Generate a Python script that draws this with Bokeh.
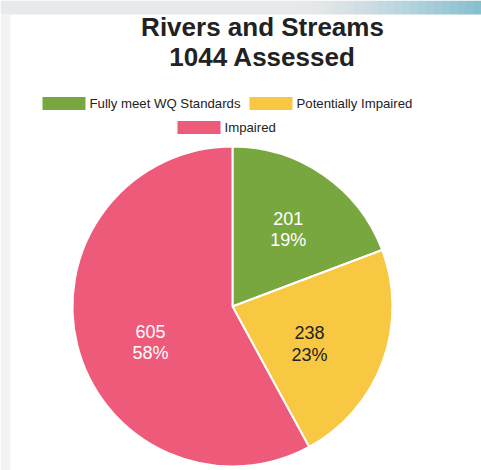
import numpy as np
from bokeh.plotting import figure
from bokeh.models import Range1d, ColumnDataSource
from bokeh.core.properties import value
from bokeh.embed import file_html
from bokeh.resources import INLINE

# ---- data ----
title_lines = ["Rivers and Streams", "1044 Assessed"]
categories = ["Fully meet WQ Standards", "Potentially Impaired", "Impaired"]
counts = [201, 238, 605]
colors = ["#79a73f", "#f9c843", "#ee5a7a"]
label_colors = ["white", "#222222", "white"]

W, H = 481, 470
p = figure(width=W, height=H, output_backend="svg", toolbar_location=None,
           x_range=Range1d(0, W), y_range=Range1d(0, H),
           min_border=0, outline_line_color=None, background_fill_color="white",
           border_fill_color="white")
p.axis.visible = False
p.grid.visible = False

FONT = value("Liberation Sans")

# decorative page background: top band and left shadow
n = 60
xs = np.linspace(0, W, n + 1)
c0 = np.array([0xe8, 0xe9, 0xeb]); c1 = np.array([0x84, 0xbf, 0xcf])
fill = []
for i in range(n):
    xm = (xs[i] + xs[i + 1]) / 2
    t = np.clip((xm - 300) / (W - 300), 0, 1) ** 1.3
    c = (c0 * (1 - t) + c1 * t).astype(int)
    fill.append("#%02x%02x%02x" % tuple(c))
p.quad(left=xs[:-1], right=xs[1:] + 0.5, bottom=H - 14, top=H, fill_color=fill,
       line_color=None)
p.quad(left=0, right=10, bottom=0, top=H - 14, fill_color="#f3f3f4", line_color=None)

# title
p.text(x=[262, 262], y=[H - 26, H - 56], text=title_lines, text_font=FONT,
       text_font_size="26px", text_font_style="bold", text_color="#222222",
       text_align="center", text_baseline="middle")

# legend (manual, two rows)
leg_x = [42, 249, 177]
leg_y = [H - 103, H - 103, H - 127]
p.rect(x=[x + 21.5 for x in leg_x], y=leg_y, width=43, height=13,
       fill_color=colors, line_color=None)
p.text(x=[x + 47 for x in leg_x], y=leg_y, text=categories, text_font=FONT,
       text_font_size="13.2px", text_color="#222222", text_align="left",
       text_baseline="middle")

# pie
cx, cy, R = 232, H - 306, 160
total = sum(counts)
fr = np.array(counts) / total
ends = np.pi / 2 - 2 * np.pi * np.cumsum(fr)
starts = np.concatenate([[np.pi / 2], ends[:-1]])
src = ColumnDataSource(dict(start=ends, end=starts, color=colors))
p.wedge(x=cx, y=cy, radius=R, start_angle="start", end_angle="end",
        fill_color="color", line_color="white", line_width=2, source=src)

# slice labels at the slice mid-angle, nudged like the original renderer
mids = (starts + ends) / 2
rl = 0.58 * R
nudge_x = [3, -10, 8]
nudge_y = [1, -5, -13]
lx = cx + rl * np.cos(mids) + np.array(nudge_x)
ly = cy + rl * np.sin(mids) + np.array(nudge_y)
pct = [f"{round(f * 100)}%" for f in fr]
p.text(x=lx, y=ly + 11, text=[str(c) for c in counts], text_font=FONT,
       text_font_size="18px", text_color=label_colors, text_align="center",
       text_baseline="middle")
p.text(x=lx, y=ly - 11, text=pct, text_font=FONT,
       text_font_size="18px", text_color=label_colors, text_align="center",
       text_baseline="middle")

open("out.html", "w").write(file_html(p, INLINE))
